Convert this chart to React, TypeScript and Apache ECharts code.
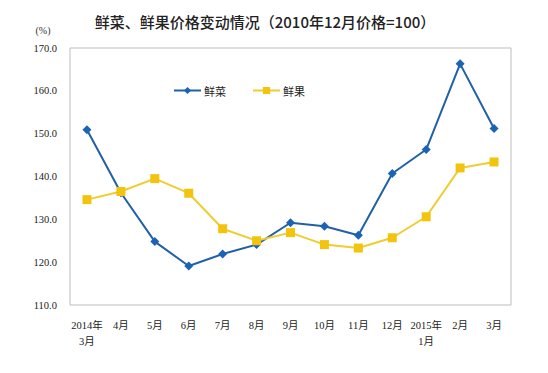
import React, { useEffect, useRef } from "react";
import * as echarts from "echarts";

const categories = ["2014年\n3月", "4月", "5月", "6月", "7月", "8月", "9月", "10月", "11月", "12月", "2015年\n1月", "2月", "3月"];
const vegetables = [150.9, 136.2, 124.8, 119.1, 121.9, 124.1, 129.2, 128.4, 126.3, 140.7, 146.3, 166.3, 151.2];
const fruits = [134.6, 136.5, 139.5, 136.1, 127.8, 125.0, 126.9, 124.1, 123.3, 125.7, 130.6, 142.0, 143.4];
const titleText = "鲜菜、鲜果价格变动情况（2010年12月价格=100）";
const unitText = "(%)";

const serif = "Liberation Serif, Noto Sans CJK SC, serif";
const cjk = "Noto Sans CJK SC, sans-serif";

export default function App() {
  const ref = useRef<HTMLDivElement>(null);
  useEffect(() => {
    document.body.style.margin = "0";
    if (!ref.current) return;
    const chart = echarts.init(ref.current, undefined, { renderer: "svg" });
    chart.setOption({
      animation: false,
      backgroundColor: "#ffffff",
      title: {
        text: titleText,
        left: 260,
        textAlign: "center",
        top: 9,
        textStyle: { fontSize: 15, fontWeight: 500, color: "#222", fontFamily: cjk },
      },
      graphic: [
        {
          type: "text",
          x: 43,
          y: 30,
          style: { text: unitText, fontSize: 10, fill: "#333", fontFamily: serif, align: "center", verticalAlign: "middle" },
        },
      ],
      legend: {
        left: 168,
        top: 80,
        itemWidth: 27,
        itemHeight: 9,
        itemGap: 26,
        textStyle: { fontSize: 11, color: "#222", fontFamily: cjk, padding: [0, 0, 0, -2] },
        data: ["鲜菜", "鲜果"],
      },
      grid: { left: 70, right: 37, top: 48, bottom: 68, show: true, borderColor: "#bdbdbd", borderWidth: 1 },
      xAxis: {
        type: "category",
        data: categories,
        boundaryGap: true,
        axisLine: { show: false },
        axisTick: { show: false },
        axisLabel: { fontSize: 10.5, color: "#222", fontFamily: serif, margin: 12, lineHeight: 16, interval: 0 },
      },
      yAxis: {
        type: "value",
        min: 110,
        max: 170,
        interval: 10,
        axisLine: { show: false },
        axisTick: { show: false },
        splitLine: { show: false },
        axisLabel: { fontSize: 10.5, color: "#222", fontFamily: serif, margin: 13, formatter: (v: number) => v.toFixed(1) },
      },
      series: [
        {
          name: "鲜菜",
          type: "line",
          data: vegetables,
          symbol: "diamond",
          symbolSize: 9,
          lineStyle: { color: "#2160a6", width: 2 },
          itemStyle: { color: "#1a63b5" },
        },
        {
          name: "鲜果",
          type: "line",
          data: fruits,
          symbol: "rect",
          symbolSize: 9,
          lineStyle: { color: "#efcd30", width: 2 },
          itemStyle: { color: "#f2c40f" },
        },
      ],
    });
    return () => chart.dispose();
  }, []);
  return <div ref={ref} style={{ width: 548, height: 373 }} />;
}
